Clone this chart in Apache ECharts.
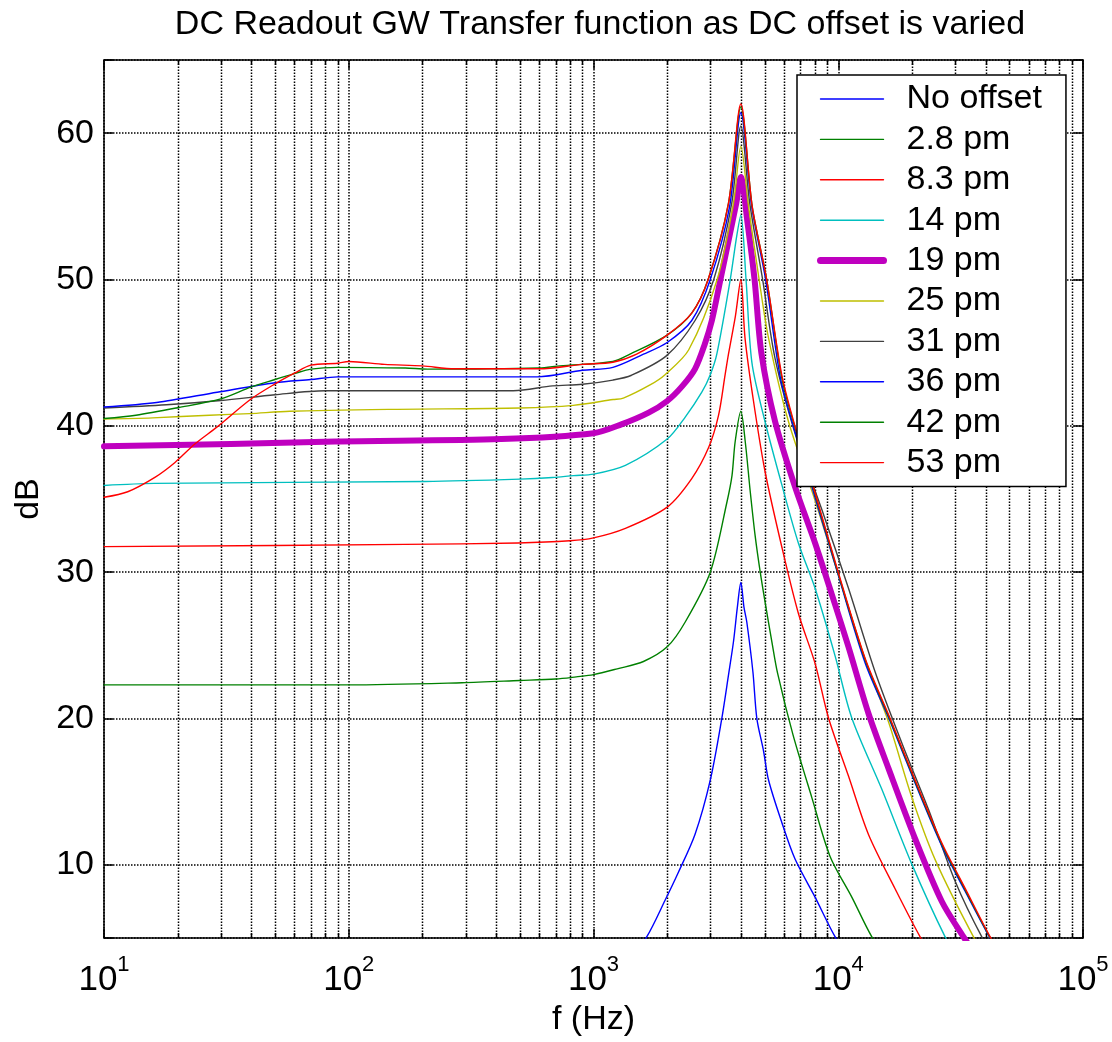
<!DOCTYPE html>
<html>
<head>
<meta charset="utf-8">
<script src="https://cdn.jsdelivr.net/npm/echarts@6/dist/echarts.min.js"></script>
<style>
  html, body { margin: 0; padding: 0; background: #fff; }
  #chart { width: 1112px; height: 1042px; }
</style>
</head>
<body>
<div id="chart"></div>
<script>
// ---------------- data ----------------
const seriesNames = ['No offset', '2.8 pm', '8.3 pm', '14 pm', '19 pm', '25 pm', '31 pm', '36 pm', '42 pm', '53 pm'];

// No offset
const f0 = [1400, 1652, 1963, 2223, 2600, 3000, 3343, 3563, 3735, 3870, 4000, 4120, 4230, 4480, 4650, 4950, 5190, 5880, 6660, 8040, 9700, 11000];
const d0 = [3.6, 5.1, 7.6, 9.5, 12.1, 15.8, 20.0, 23.0, 25.3, 27.6, 29.3, 27.6, 26.6, 23.2, 20.0, 17.8, 15.8, 12.9, 10.4, 7.8, 5.1, 3.8];
// 2.8 pm
const f1 = [10, 100, 290, 500, 700, 850, 1000, 1250, 1600, 2000, 2370, 3000, 3510, 3680, 3790, 4000, 4170, 4370, 4575, 4800, 5030, 5360, 5650, 6530, 7800, 9250, 11360, 13700, 15500];
const d1 = [22.3, 22.3, 22.45, 22.6, 22.7, 22.85, 23.0, 23.4, 23.9, 24.9, 26.6, 30.0, 34.8, 36.6, 38.9, 41.0, 38.9, 35.5, 32.5, 30.0, 27.9, 25.2, 23.1, 18.9, 14.6, 10.6, 7.8, 5.1, 3.9];
// 8.3 pm
const f2 = [10, 170, 490, 800, 1000, 1350, 2000, 2520, 2950, 3240, 3450, 3560, 3800, 4000, 4160, 4500, 5020, 5875, 6870, 8040, 9120, 11010, 13290, 17070, 21600, 24000];
const d2 = [31.75, 31.9, 32.0, 32.15, 32.35, 33.0, 34.45, 36.4, 38.5, 40.7, 43.5, 44.9, 47.5, 50.0, 46.0, 41.75, 36.9, 31.76, 27.2, 23.77, 20.06, 16.07, 12.08, 8.37, 5.09, 4.0];
// 14 pm
const f3 = [10, 16, 205, 500, 680, 830, 1000, 1350, 2000, 2370, 2770, 3000, 3190, 3620, 3850, 4000, 4200, 4440, 5020, 5875, 6870, 8040, 9700, 11350, 15040, 19960, 27300, 30000];
const d3 = [35.93, 36.07, 36.2, 36.36, 36.47, 36.6, 36.7, 37.3, 39.1, 40.6, 42.3, 43.5, 44.9, 50.0, 53.0, 54.4, 50.0, 44.3, 40.3, 36.0, 32.0, 28.9, 24.3, 20.06, 15.2, 10.07, 5.1, 4.1];
// 19 pm
const f4 = [10, 33, 88, 420, 1000, 1300, 1680, 2000, 2300, 2600, 2850, 3045, 3300, 3830, 4000, 4250, 4550, 4850, 5520, 6670, 8040, 9700, 11010, 13290, 16040, 20600, 26500, 32440, 36000];
const d4 = [38.6, 38.76, 38.94, 39.1, 39.5, 40.1, 40.9, 41.7, 42.7, 43.9, 45.6, 47.2, 50.0, 55.2, 57.0, 54.0, 50.0, 45.0, 40.3, 35.8, 32.0, 27.8, 24.9, 20.35, 16.6, 11.8, 7.5, 5.1, 4.0];
// 25 pm
const f5 = [10, 15.8, 27, 39.4, 57.4, 152, 500, 826, 1203, 1324, 1702, 1960, 2450, 3200, 3730, 4000, 4300, 4750, 5190, 6260, 8040, 10020, 12880, 16040, 19960, 24880, 35650, 39000];
const d5 = [40.47, 40.55, 40.73, 40.84, 41.0, 41.13, 41.22, 41.4, 41.8, 41.9, 42.8, 43.5, 45.2, 50.0, 55.2, 59.1, 55.0, 50.0, 46.0, 40.3, 34.9, 29.8, 24.06, 19.78, 14.64, 10.36, 5.1, 4.2];
// 31 pm
const f6 = [10, 18, 30, 50, 80, 470, 680, 900, 1200, 1430, 1990, 2600, 3100, 3670, 4000, 4350, 4910, 5520, 6800, 8560, 11010, 14140, 18170, 23360, 30000, 38550, 42000];
const d6 = [41.22, 41.44, 41.73, 42.13, 42.4, 42.4, 42.73, 42.84, 43.13, 43.46, 44.8, 47.2, 50.0, 55.2, 60.5, 55.2, 50.0, 44.6, 39.0, 34.3, 28.9, 23.2, 18.35, 13.8, 8.9, 5.1, 4.3];
// 36 pm
const f7 = [10, 16.4, 29, 50, 70, 90, 590, 900, 1200, 1600, 2000, 2520, 3000, 3600, 4000, 4430, 5050, 5800, 6600, 7500, 10000, 12880, 16300, 20600, 26500, 33000, 41700, 45000];
const d7 = [41.29, 41.6, 42.3, 42.95, 43.17, 43.35, 43.35, 43.8, 44.0, 44.9, 45.7, 47.2, 50.0, 55.0, 61.4, 55.0, 50.0, 43.3, 39.8, 36.8, 29.8, 23.8, 19.8, 15.6, 11.3, 8.2, 5.0, 4.2];
// 42 pm
const f8 = [10, 13.5, 20, 30, 40, 50, 60, 70, 90, 170, 210, 600, 730, 1200, 1410, 2000, 2520, 2940, 3560, 4000, 4450, 5100, 5875, 6650, 7550, 10000, 12880, 16300, 20600, 26500, 33000, 41700, 45000];
const d8 = [40.5, 40.73, 41.24, 41.84, 42.66, 43.17, 43.57, 43.88, 44.0, 43.95, 43.88, 43.95, 44.1, 44.4, 44.9, 46.2, 47.7, 50.0, 55.2, 61.8, 55.0, 50.0, 43.3, 39.9, 36.9, 29.9, 24.0, 19.9, 15.7, 11.4, 8.3, 5.05, 4.3];
// 53 pm
const f9 = [10, 12.5, 16.2, 19.5, 23.5, 29, 40, 50, 60, 70, 90, 100, 140, 200, 270, 600, 900, 1200, 1500, 2000, 2520, 2940, 3560, 4000, 4450, 5100, 5875, 6650, 7550, 10000, 12880, 16300, 20600, 26500, 33000, 41700, 45000];
const d9 = [35.12, 35.5, 36.5, 37.5, 38.76, 39.93, 41.85, 42.87, 43.6, 44.15, 44.28, 44.4, 44.2, 44.1, 43.9, 43.9, 44.2, 44.35, 44.9, 46.2, 47.7, 50.0, 55.2, 62.0, 55.0, 50.0, 43.5, 40.0, 37.0, 30.0, 24.1, 20.0, 15.8, 11.5, 8.4, 5.1, 4.3];

const yTickValues = [10, 20, 30, 40, 50, 60];
const xMinorTicks = [20, 30, 40, 50, 60, 70, 80, 90,
  200, 300, 400, 500, 600, 700, 800, 900,
  2000, 3000, 4000, 5000, 6000, 7000, 8000, 9000,
  20000, 30000, 40000, 50000, 60000, 70000, 80000, 90000];

// ---------------- styles ----------------
const FONT = "'Liberation Sans', Arial, Helvetica, sans-serif";
const NARROW = "'Liberation Sans Narrow', 'Liberation Sans', Arial, sans-serif";
const colors = ['#0000FF', '#008000', '#FF0000', '#00BFBF', '#BF00BF', '#BFBF00', '#404040', '#0000FF', '#008000', '#FF0000'];
const widths = [1.4, 1.4, 1.4, 1.4, 6, 1.4, 1.4, 1.4, 1.4, 1.4];
const GRID_DASH = [1.5, 1.5];
const X_MIN = 10, X_MAX = 100000, Y_MIN = 5, Y_MAX = 65;

const fs = [f0, f1, f2, f3, f4, f5, f6, f7, f8, f9];
const ds = [d0, d1, d2, d3, d4, d5, d6, d7, d8, d9];

const chart = echarts.init(document.getElementById('chart'), null, { renderer: 'canvas' });

const lineSeries = seriesNames.map((name, i) => ({
  name: name,
  type: 'line',
  xAxisIndex: 0,
  yAxisIndex: 0,
  symbol: 'none',
  clip: true,
  smooth: 0.3,
  z: 3,
  lineStyle: { color: colors[i], width: widths[i], join: 'round', cap: 'round' },
  itemStyle: { color: colors[i] },
  emphasis: { disabled: true },
  data: fs[i].map((f, k) => [f, ds[i][k]])
}));

const minorSeries = {
  type: 'custom',
  xAxisIndex: 0,
  yAxisIndex: 0,
  silent: true,
  z: 1,
  data: xMinorTicks.map(v => [v, Y_MIN]),
  encode: { x: 0, y: 1 },
  renderItem: function (params, api) {
    const b = api.coord([api.value(0), Y_MIN]);
    const t = api.coord([api.value(0), Y_MAX]);
    const x = Math.round(b[0]) + 0.5;
    return {
      type: 'group',
      children: [
        { type: 'line', shape: { x1: x, y1: b[1], x2: x, y2: t[1] },
          style: { stroke: '#000', lineWidth: 1.5, lineDash: GRID_DASH } },
        { type: 'line', shape: { x1: x, y1: b[1], x2: x, y2: b[1] - 5 },
          style: { stroke: '#000', lineWidth: 1.5 } },
        { type: 'line', shape: { x1: x, y1: t[1], x2: x, y2: t[1] + 5 },
          style: { stroke: '#000', lineWidth: 1.5 } }
      ]
    };
  }
};

const axisLineStyle = { lineStyle: { color: '#000', width: 1.5 } };
const tickStyle = { show: true, inside: true, length: 9, lineStyle: { color: '#000', width: 1.5 } };

const option = {
  animation: false,
  backgroundColor: '#ffffff',
  title: {
    text: 'DC Readout GW Transfer function as DC offset is varied',
    left: 595,
    textAlign: 'center',
    top: 3,
    textStyle: { fontFamily: FONT, fontSize: 34, fontWeight: 'normal', color: '#000' }
  },
  grid: { left: 104, right: 29, top: 60, bottom: 97, containLabel: false },
  legend: {
    orient: 'vertical',
    left: 797,
    top: 75,
    padding: [4, 24, 4, 20],
    itemWidth: 63,
    itemHeight: 14,
    itemGap: 0.4,
    backgroundColor: '#ffffff',
    borderColor: '#000',
    borderWidth: 1.5,
    borderRadius: 0,
    selectedMode: false,
    itemStyle: { opacity: 0 },
    lineStyle: { width: 1.4 },
    textStyle: { fontFamily: FONT, fontSize: 34, color: '#000', lineHeight: 40, padding: [0, 0, 0, 18] },
    data: seriesNames.map((n, i) => i === 4
      ? { name: n, lineStyle: { width: 7, cap: 'round' } }
      : { name: n })
  },
  xAxis: [
    {
      type: 'log', logBase: 10, min: X_MIN, max: X_MAX, position: 'bottom',
      name: 'f (Hz)', nameLocation: 'middle', nameGap: 60,
      nameTextStyle: { fontFamily: FONT, fontSize: 34, color: '#000' },
      axisLine: axisLineStyle,
      axisTick: tickStyle,
      minorTick: { show: false },
      splitLine: { show: true, lineStyle: { color: '#000', width: 1.5, type: GRID_DASH } },
      axisLabel: {
        margin: 16,
        formatter: function (v) { return '{b|10}{s|' + Math.round(Math.log10(v)) + '}'; },
        rich: {
          b: { fontFamily: NARROW, fontSize: 35, color: '#000', lineHeight: 44, verticalAlign: 'bottom' },
          s: { fontFamily: NARROW, fontSize: 22, color: '#000', lineHeight: 22, verticalAlign: 'top' }
        }
      }
    },
    {
      type: 'log', logBase: 10, min: X_MIN, max: X_MAX, position: 'top',
      axisLine: axisLineStyle,
      axisTick: tickStyle,
      axisLabel: { show: false },
      splitLine: { show: false }
    }
  ],
  yAxis: [
    {
      type: 'value', min: Y_MIN, max: Y_MAX, splitNumber: 6, position: 'left',
      name: 'dB', nameLocation: 'middle', nameGap: 56, nameRotate: 90,
      nameTextStyle: { fontFamily: FONT, fontSize: 34, color: '#000' },
      axisLine: axisLineStyle,
      axisTick: tickStyle,
      splitLine: { show: true, lineStyle: { color: '#000', width: 1.5, type: GRID_DASH } },
      axisLabel: {
        margin: 10,
        fontFamily: FONT, fontSize: 34, color: '#000',
        formatter: function (v) { return yTickValues.indexOf(v) >= 0 ? String(v) : ''; }
      }
    },
    {
      type: 'value', min: Y_MIN, max: Y_MAX, splitNumber: 6, position: 'right',
      axisLine: axisLineStyle,
      axisTick: tickStyle,
      splitLine: { show: false },
      axisLabel: { show: false }
    }
  ],
  series: [minorSeries].concat(lineSeries)
};

chart.setOption(option);
</script>
</body>
</html>
